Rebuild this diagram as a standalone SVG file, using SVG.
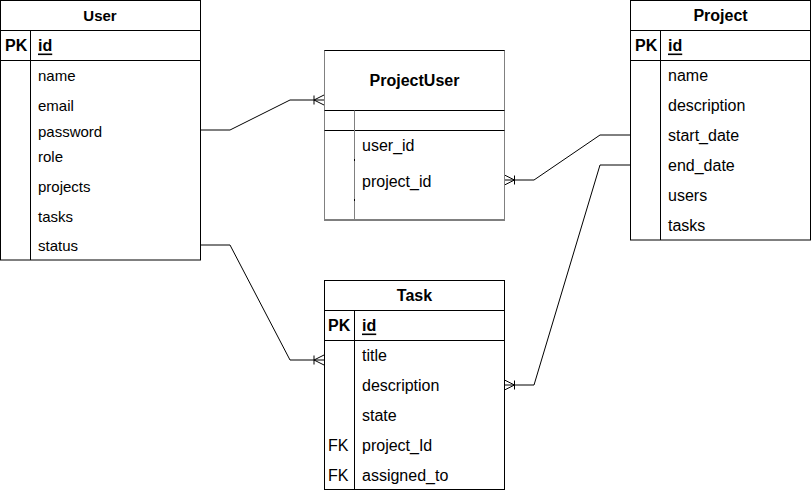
<svg xmlns="http://www.w3.org/2000/svg" width="811" height="491" viewBox="0 0 811 491">
<style>
  .box{fill:#fff;stroke:#000;stroke-width:1}
  .ln{stroke:#000;stroke-width:1;fill:none}
  .gl{stroke:#808080;stroke-width:1;fill:none}
  .hd{font-family:"Liberation Sans",Arial,sans-serif;font-weight:bold;fill:#000;text-anchor:middle;dominant-baseline:central}
  .pk{font-family:"Liberation Sans",Arial,sans-serif;font-weight:bold;font-size:16px;fill:#000;dominant-baseline:central}
  .key{text-decoration:underline}
  .f15{font-family:"Liberation Sans",Arial,sans-serif;font-size:15px;fill:#000;dominant-baseline:central}
  .f16{font-family:"Liberation Sans",Arial,sans-serif;font-size:16px;fill:#000;dominant-baseline:central}
  .conn{stroke:#000;stroke-width:1;fill:none;marker-end:url(#many)}
</style>
<defs>
  <marker id="many" viewBox="-12 -6 14 12" refX="0" refY="0" markerWidth="14" markerHeight="12" markerUnits="userSpaceOnUse" orient="auto">
    <path d="M-10,-4.5 L-10,4.5 M-10,0 L0,-5 M-10,0 L0,5" stroke="#000" stroke-width="1" fill="none"/>
  </marker>
</defs>

<g id="connectors">
  <path class="conn" d="M200,130 L230,130 L290,100 L324,100"/>
  <path class="conn" d="M200,245 L230,245 L290,360 L324,360"/>
  <path class="conn" d="M630,135 L600,135 L534,180 L504.5,180"/>
  <path class="conn" d="M630,165 L600,165 L534,385 L504.5,385"/>
</g>

<g id="User">
  <rect class="box" x="0.5" y="0.5" width="200" height="259.5"/>
  <line class="ln" x1="0.5" y1="30.5" x2="200.5" y2="30.5"/>
  <line class="ln" x1="0.5" y1="60.5" x2="200.5" y2="60.5"/>
  <line class="ln" x1="30.5" y1="30.5" x2="30.5" y2="260"/>
  <text class="hd" x="100" y="15" font-size="15">User</text>
  <text class="pk" x="5" y="45">PK</text>
  <text class="pk key" x="38" y="45">id</text>
  <text class="f15" x="38" y="75">name</text>
  <text class="f15" x="38" y="105">email</text>
  <text class="f15" x="38" y="131">password</text>
  <text class="f15" x="38" y="156">role</text>
  <text class="f15" x="38" y="186">projects</text>
  <text class="f15" x="38" y="216">tasks</text>
  <text class="f15" x="38" y="245">status</text>
</g>

<g id="ProjectUser">
  <rect x="324.5" y="50.5" width="180" height="169.5" fill="#fff" stroke="none"/>
  <line class="ln" x1="324" y1="50.5" x2="505" y2="50.5"/>
  <line class="ln" x1="324" y1="220" x2="505" y2="220"/>
  <line class="gl" x1="324.5" y1="50.5" x2="324.5" y2="220"/>
  <line class="gl" x1="504.5" y1="50.5" x2="504.5" y2="220"/>
  <line class="ln" x1="324.5" y1="110.5" x2="504.5" y2="110.5"/>
  <line class="ln" x1="324.5" y1="130.5" x2="504.5" y2="130.5"/>
  <line class="gl" x1="354.5" y1="110.5" x2="354.5" y2="220"/>
  <line class="ln" x1="354.5" y1="159" x2="354.5" y2="161"/>
  <line class="ln" x1="354.5" y1="199" x2="354.5" y2="201"/>
  <text class="hd" x="414.5" y="80" font-size="16">ProjectUser</text>
  <text class="f16" x="362" y="145">user_id</text>
  <text class="f16" x="362" y="181">project_id</text>
</g>

<g id="Project">
  <rect class="box" x="630.5" y="0.5" width="180" height="239.5"/>
  <line class="ln" x1="630.5" y1="30.5" x2="810.5" y2="30.5"/>
  <line class="ln" x1="630.5" y1="60.5" x2="810.5" y2="60.5"/>
  <line class="ln" x1="660.5" y1="30.5" x2="660.5" y2="240"/>
  <text class="hd" x="720.5" y="15" font-size="16">Project</text>
  <text class="pk" x="635" y="45">PK</text>
  <text class="pk key" x="668" y="45">id</text>
  <text class="f16" x="668" y="75">name</text>
  <text class="f16" x="668" y="105">description</text>
  <text class="f16" x="668" y="135">start_date</text>
  <text class="f16" x="668" y="165">end_date</text>
  <text class="f16" x="668" y="195">users</text>
  <text class="f16" x="668" y="225">tasks</text>
</g>

<g id="Task">
  <rect class="box" x="324.5" y="280.5" width="180" height="209"/>
  <line class="ln" x1="324.5" y1="310.5" x2="504.5" y2="310.5"/>
  <line class="ln" x1="324.5" y1="340.5" x2="504.5" y2="340.5"/>
  <line class="ln" x1="354.5" y1="310.5" x2="354.5" y2="489.5"/>
  <text class="hd" x="414.5" y="295" font-size="16">Task</text>
  <text class="pk" x="328" y="325">PK</text>
  <text class="pk key" x="362" y="325">id</text>
  <text class="f16" x="362" y="355">title</text>
  <text class="f16" x="362" y="385">description</text>
  <text class="f16" x="362" y="415">state</text>
  <text class="f16" x="328" y="445">FK</text>
  <text class="f16" x="362" y="445">project_Id</text>
  <text class="f16" x="328" y="475">FK</text>
  <text class="f16" x="362" y="475">assigned_to</text>
</g>
</svg>
